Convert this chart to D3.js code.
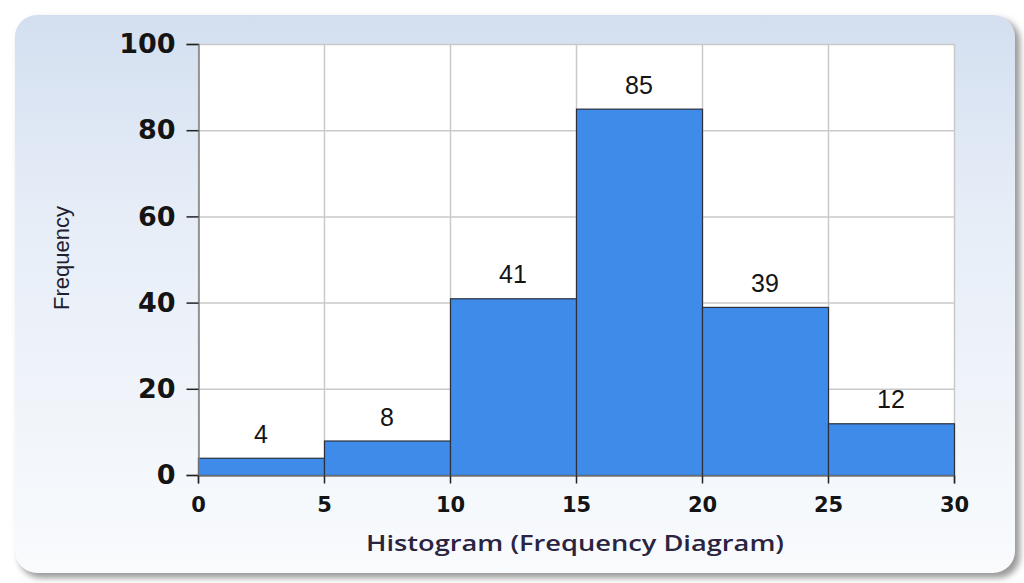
<!DOCTYPE html>
<html>
<head>
<meta charset="utf-8">
<script src="https://cdn.jsdelivr.net/npm/d3@7"></script>
<style>
  body { margin: 0; background: #ffffff; }
  svg { display: block; }
</style>
</head>
<body>
<div id="chart"></div>
<script>
// bin edges and counts
const binStarts = [0, 5, 10, 15, 20, 25];
const binWidth = 5;
const counts = [4, 8, 41, 85, 39, 12];
const xTicks = [0, 5, 10, 15, 20, 25, 30];
const yTicks = [0, 20, 40, 60, 80, 100];

const svgAttr = { width: 1024, height: 583 };
const plot = { left: 198, right: 954, top: 44, bottom: 475 };

const colors = {
    bar: "#3f8bea",
    barStroke: "#2a2f3a",
    grid: "#c9c9c9",
    axis: "#808080",
    text: "#141414"
};

const svg = d3.select("#chart")
              .append("svg")
              .attr("width", svgAttr.width)
              .attr("height", svgAttr.height);

const defs = svg.append("defs");

const grad = defs.append("linearGradient")
                 .attr("id", "panelGrad")
                 .attr("x1", 0).attr("y1", 0)
                 .attr("x2", 0).attr("y2", 1);
grad.append("stop").attr("offset", "0%").attr("stop-color", "#d3dff0");
grad.append("stop").attr("offset", "35%").attr("stop-color", "#e6edf7");
grad.append("stop").attr("offset", "100%").attr("stop-color", "#f9fbfd");

const blur = defs.append("filter")
                 .attr("id", "shadow")
                 .attr("x", "-5%").attr("y", "-5%")
                 .attr("width", "110%").attr("height", "110%");
blur.append("feGaussianBlur").attr("stdDeviation", 3);

// panel shadow + panel
svg.append("rect")
   .attr("x", 19).attr("y", 19)
   .attr("width", 1001).attr("height", 559)
   .attr("rx", 22).attr("ry", 22)
   .attr("fill", "#9a9a9a")
   .attr("filter", "url(#shadow)");

svg.append("rect")
   .attr("x", 15).attr("y", 15)
   .attr("width", 1000).attr("height", 558)
   .attr("rx", 22).attr("ry", 22)
   .attr("fill", "url(#panelGrad)");

const x = d3.scaleLinear().domain([0, 30]).range([plot.left, plot.right]);
const y = d3.scaleLinear().domain([0, 100]).range([plot.bottom, plot.top]);

// plot background
svg.append("rect")
   .attr("x", x(0)).attr("y", y(100))
   .attr("width", x(30) - x(0)).attr("height", y(0) - y(100))
   .attr("fill", "#ffffff");

// grid lines
svg.append("g")
   .selectAll("line.h")
   .data(yTicks)
   .join("line")
   .attr("x1", x(0)).attr("x2", x(30))
   .attr("y1", d => y(d) + 0.5).attr("y2", d => y(d) + 0.5)
   .attr("stroke", colors.grid).attr("stroke-width", 1.5);

svg.append("g")
   .selectAll("line.v")
   .data(xTicks)
   .join("line")
   .attr("x1", d => x(d) + 0.5).attr("x2", d => x(d) + 0.5)
   .attr("y1", y(100)).attr("y2", y(0))
   .attr("stroke", colors.grid).attr("stroke-width", 1.5);

// bars
const bins = binStarts.map((s, i) => ({ x0: s, x1: s + binWidth, n: counts[i] }));

svg.append("g")
   .selectAll("rect")
   .data(bins)
   .join("rect")
   .attr("x", d => x(d.x0) + 0.5)
   .attr("y", d => y(d.n) + 0.5)
   .attr("width", d => x(d.x1) - x(d.x0))
   .attr("height", d => y(0) - y(d.n))
   .attr("fill", colors.bar)
   .attr("stroke", colors.barStroke)
   .attr("stroke-width", 1.2);

// value labels
svg.append("g")
   .selectAll("text")
   .data(bins)
   .join("text")
   .attr("x", d => x((d.x0 + d.x1) / 2))
   .attr("y", d => y(d.n) - 15)
   .attr("text-anchor", "middle")
   .attr("font-family", "Liberation Sans, Arial, sans-serif")
   .attr("font-size", 25)
   .attr("fill", colors.text)
   .text(d => d.n);

// y axis
const yAxis = svg.append("g")
   .attr("transform", `translate(${x(0) + 0.5},0)`)
   .call(d3.axisLeft(y).tickValues(yTicks).tickSize(12).tickPadding(11));
yAxis.select(".domain").attr("stroke", colors.axis).attr("stroke-width", 1.5);
yAxis.selectAll(".tick line").attr("stroke", "#222").attr("stroke-width", 1.5);
yAxis.selectAll("text")
     .attr("font-family", "DejaVu Sans, Verdana, sans-serif")
     .attr("font-weight", "bold")
     .attr("font-size", 27)
     .attr("fill", colors.text);

// x axis
const xAxis = svg.append("g")
   .attr("transform", `translate(0,${y(0) + 0.5})`)
   .call(d3.axisBottom(x).tickValues(xTicks).tickSize(8).tickPadding(14));
xAxis.select(".domain").attr("stroke", colors.axis).attr("stroke-width", 1.5);
xAxis.selectAll(".tick line").attr("stroke", "#222").attr("stroke-width", 1.5);
xAxis.selectAll("text")
     .attr("font-family", "DejaVu Sans, Verdana, sans-serif")
     .attr("font-weight", "bold")
     .attr("font-size", 21)
     .attr("fill", colors.text);

// axis titles
svg.append("text")
   .attr("x", x(15) - 1)
   .attr("y", 551)
   .attr("text-anchor", "middle")
   .attr("font-family", "Open Sans, DejaVu Sans, sans-serif")
   .attr("font-weight", 600)
   .attr("font-size", 21)
   .attr("fill", "#2a2440")
   .attr("textLength", 418)
   .attr("lengthAdjust", "spacingAndGlyphs")
   .text("Histogram (Frequency Diagram)");

svg.append("text")
   .attr("transform", `translate(69,258) rotate(-90)`)
   .attr("text-anchor", "middle")
   .attr("font-family", "Liberation Sans, Arial, sans-serif")
   .attr("font-size", 22)
   .attr("fill", "#1c2030")
   .text("Frequency");
</script>
</body>
</html>
